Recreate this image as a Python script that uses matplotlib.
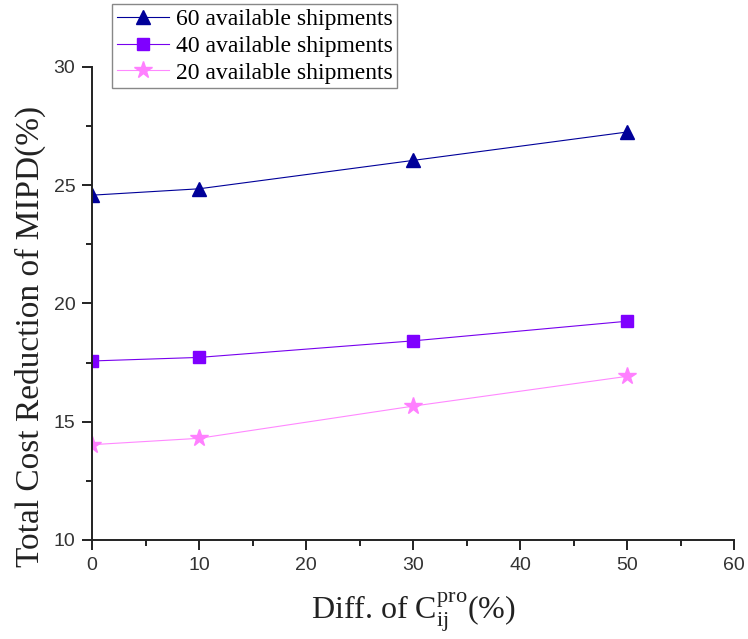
import numpy as np
import matplotlib
matplotlib.use('Agg')
import matplotlib.pyplot as plt
from matplotlib.ticker import MultipleLocator

# data
diff = [0, 10, 30, 50]
s60 = [24.58, 24.85, 26.05, 27.25]
s40 = [17.57, 17.72, 18.42, 19.25]
s20 = [14.03, 14.3, 15.66, 16.92]
labels = ['60 available shipments', '40 available shipments', '20 available shipments']

serif = ['Liberation Serif', 'DejaVu Serif']
sans = ['Liberation Sans', 'DejaVu Sans']
plt.rcParams['mathtext.fontset'] = 'custom'
plt.rcParams['mathtext.rm'] = 'Liberation Serif'

fig = plt.figure(figsize=(7.48, 6.39), dpi=100)
ax = fig.add_axes([92/748, 1-540/639, (734-92)/748, (540-67)/639])

ax.plot(diff, s60, color='#000099', lw=0.8, marker='^', ms=10,
        mfc='#000099', mec='#000099', label=labels[0])
ax.plot(diff, s40, color='#7700ee', lw=0.8, marker='s', ms=8,
        mfc='#7f00ff', mec='#7f00ff', label=labels[1])
ax.plot(diff, s20, color='#ff88ff', lw=0.8, marker='*', ms=13,
        mfc='#ff80ff', mec='#ff80ff', label=labels[2])

ax.set_xlim(0, 60)
ax.set_ylim(10, 30)
ax.xaxis.set_major_locator(MultipleLocator(10))
ax.xaxis.set_minor_locator(MultipleLocator(5))
ax.yaxis.set_major_locator(MultipleLocator(5))
ax.yaxis.set_minor_locator(MultipleLocator(2.5))

ax.spines['top'].set_visible(False)
ax.spines['right'].set_visible(False)
for s in ('left', 'bottom'):
    ax.spines[s].set_linewidth(1.4)
    ax.spines[s].set_color('#222222')

ax.tick_params(which='major', direction='out', length=7, width=1.4, pad=5,
               labelsize=14, color='#222222')
ax.tick_params(which='minor', direction='out', length=4, width=1.4, color='#222222')
for t in ax.get_xticklabels() + ax.get_yticklabels():
    t.set_family(sans)
    t.set_color('#333333')

ax.set_xlabel(r'Diff. of $\mathregular{C_{ij}^{pro}}$(%)', family=serif,
              fontsize=23, labelpad=12, color='#222222')
ax.set_ylabel('Total Cost Reduction of MIPD(%)', family=serif,
              fontsize=24, color='#222222')
ax.yaxis.set_label_coords(-0.072, 0.43)

leg = ax.legend(loc='upper left', bbox_to_anchor=(112/748, 1-4/639),
                bbox_transform=fig.transFigure, prop={'family': serif, 'size': 17},
                frameon=True, fancybox=False, edgecolor='#888888',
                handlelength=2.2, handletextpad=0.3, labelspacing=0.22,
                borderpad=0.2, borderaxespad=0, framealpha=1)
leg.get_frame().set_linewidth(1.0)

fig.savefig('out.png', dpi=100)
